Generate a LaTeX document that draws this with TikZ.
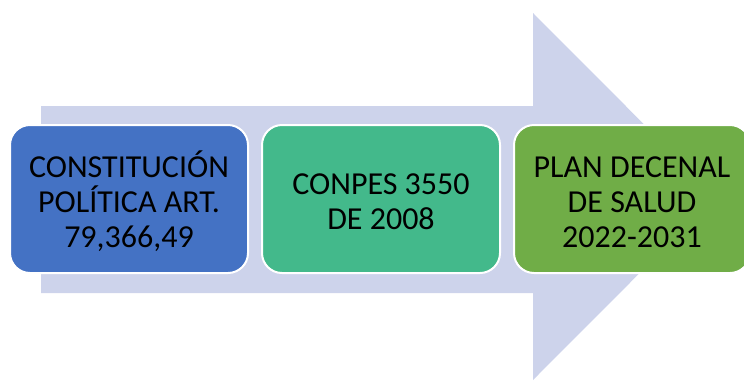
\documentclass[tikz,border=0pt]{standalone}
\usepackage{fontspec}
\setmainfont{Carlito}
\definecolor{arrowlavender}{RGB}{205,211,235}
\definecolor{stageblue}{RGB}{68,114,196}
\definecolor{stageteal}{RGB}{67,185,139}
\definecolor{stagegreen}{RGB}{112,173,71}
\newcommand{\topline}{\rule{0pt}{31pt}}
\newcommand{\botline}{\rule[-5pt]{0pt}{5pt}}
\tikzset{
  stagebox/.style={draw=white,line width=2pt,rounded corners=20pt,
    minimum width=238pt,minimum height=148pt,inner sep=0pt,align=center,
    font=\fontsize{32}{35}\selectfont}
}

\begin{document}
\begin{tikzpicture}[x=1pt,y=-1pt]
      \useasboundingbox (0,0) rectangle (744,381);
      %% big arrow behind the stages
      \fill[arrowlavender] (41,106) -- (533,106) -- (533,13) -- (716,196.5)
        -- (533,380) -- (533,293) -- (41,293) -- cycle;

      \node[stagebox,fill=stageblue] (constitucion) at (129,199)
        {\topline CONSTITUCIÓN\\POLÍTICA ART.\\79,366,49\botline};
      \node[stagebox,fill=stageteal] (conpes) at (381,199)
        {\topline CONPES 3550\\DE 2008\botline};
      \node[stagebox,fill=stagegreen,minimum width=236pt] (plandecenal) at (632,199)
        {\topline PLAN DECENAL\\DE SALUD\\2022-2031\botline};
\end{tikzpicture}
\end{document}
